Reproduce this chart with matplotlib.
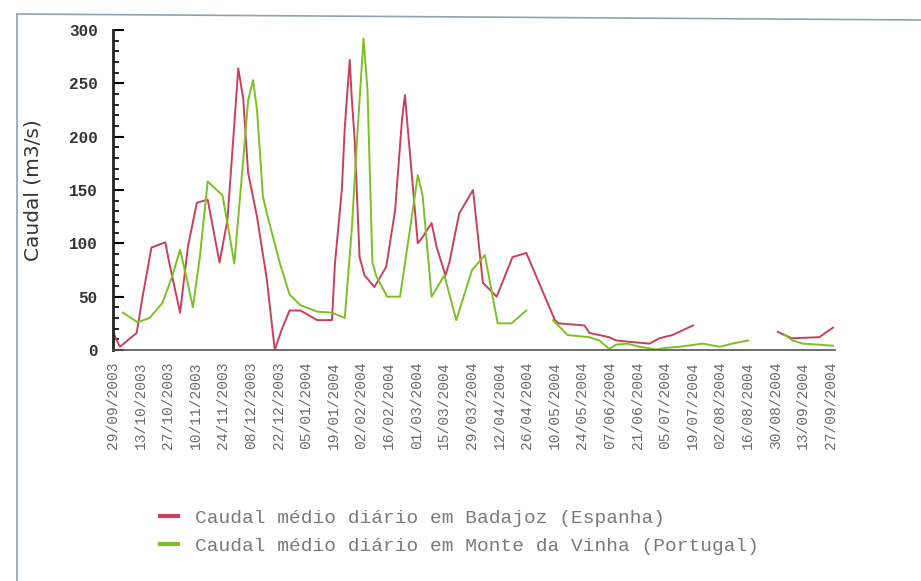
import numpy as np
import pandas as pd
import matplotlib
matplotlib.use("Agg")
import matplotlib.pyplot as plt
from matplotlib.lines import Line2D
from matplotlib.ticker import MultipleLocator

# days since 29/09/2003, nan = no data
badajoz_days = [0, 3.5, 12, 15, 19.5, 26.5, 28.5, 34, 38, 42.5, 48, 54, 58, 61, 63.5,
                66, 68.5, 73, 78, 82, 85.5, 89.5, 95, 103.5, 111, 112.5, 116, 117.5,
                120, 121, 122.5, 125, 127.5, 132.5, 138.5, 143, 146.5, 148, 149.5,
                152, 154.5, 157, 161.5, 164, 168.5, 170.5, 175.5, 182.5, 187.5,
                194.5, 202.5, 209.5, 224, 226, 239, 241.5, 246.5, 251.5, 255, 260,
                272, 277, 283.5, 287, 294, 315, 337, 344, 358, 365]
badajoz_vals = [17, 3, 16, 50, 96, 101, 82, 35, 97, 138, 141, 82, 122, 199, 264,
                236, 166, 125, 66, 0, 19, 37, 37, 28, 28, 81, 150, 209,
                272, 237, 197, 87, 70, 59, 78, 131, 216, 239, 206,
                153, 100, 106, 119, 97, 70, 82, 128, 150, 63,
                50, 87, 91, 28, 25, 23, 16, 14, 12, 9, 8,
                6, 11, 14, 17, 23, np.nan, 17, 11, 12, 21]

vinha_days = [5, 12.5, 18.5, 25, 30, 34, 37.5, 40.5, 44, 48, 55.5, 58, 61.5, 66,
              68.5, 71, 73, 76, 78, 84.5, 89.5, 95, 103.5, 111, 117.5, 121, 124,
              127, 129, 131.5, 133.5, 139, 145.5, 151.5, 154.5, 157, 161.5, 168,
              174, 182, 188.5, 195, 202, 209.5, 216, 223, 230.5, 241.5, 246.5,
              251.5, 255, 260.5, 267, 275.5, 280.5, 287, 299, 307.5, 314, 322,
              330, 340.5, 344.5, 349.5, 358, 365]
vinha_vals = [35, 26, 30, 44, 69, 94, 66, 40, 87, 158, 145, 119, 81, 178,
              234, 253, 225, 144, 128, 82, 52, 42, 36, 35, 30, 112, 206,
              292, 244, 82, 69, 50, 50, 125, 164, 144, 50, 70,
              28, 75, 89, 25, 25, 37, np.nan, 28, 14, 12, 9,
              1, 5, 6, 3, 0.5, 2, 3, 6, 3, 6, 9,
              np.nan, 14, 9, 6, 5, 4]

start_date = "2003-09-29"
n_labels = 27
legend_labels = ["Caudal médio diário em Badajoz (Espanha)",
                 "Caudal médio diário em Monte da Vinha (Portugal)"]

red = "#c8405c"
green = "#7cbf26"
mono = "Liberation Mono"

fig = plt.figure(figsize=(9.21, 5.81), dpi=100)
ax = fig.add_axes([113 / 921, 1 - 350 / 581, 722 / 921, 320 / 581])

ax.plot(badajoz_days, badajoz_vals, color=red, lw=1.4)
ax.plot(vinha_days, vinha_vals, color=green, lw=1.4)

ax.set_xlim(0, 366)
ax.set_ylim(0, 300)

tick_days = np.arange(n_labels) * 14
tick_text = pd.date_range(start_date, periods=n_labels, freq="14D").strftime("%d/%m/%Y")
ax.set_xticks(tick_days)
ax.set_xticklabels(tick_text, rotation=90, family=mono, fontsize=10.5, color="#6a6a6a")
ax.tick_params(axis="x", length=0, pad=8)

ax.yaxis.set_major_locator(MultipleLocator(50))
ax.yaxis.set_minor_locator(MultipleLocator(10))
ax.tick_params(axis="y", which="major", direction="in", length=8, width=1.5, pad=11)
ax.tick_params(axis="y", which="minor", direction="in", length=4, width=1.2)
for lab in ax.get_yticklabels():
    lab.set_family(mono)
    lab.set_fontweight("bold")
    lab.set_fontsize(11.5)
    lab.set_color("#333333")

ax.set_ylabel("Caudal (m3/s)", family="DejaVu Sans", fontsize=14.5, color="#333333")
ax.yaxis.set_label_coords(-0.098, 0.5)

for s in ["top", "right"]:
    ax.spines[s].set_visible(False)
ax.spines["left"].set_linewidth(2)
ax.spines["left"].set_color("#222222")
ax.spines["bottom"].set_color("#555555")
ax.spines["bottom"].set_linewidth(1.2)

handles = [Line2D([], [], color=red, lw=3), Line2D([], [], color=green, lw=3)]
leg = fig.legend(handles, legend_labels, loc="center left",
                 bbox_to_anchor=(160 / 921, 1 - 532 / 581), frameon=False,
                 borderpad=0, borderaxespad=0, handlelength=0.95,
                 handletextpad=0.85, labelspacing=0.55,
                 prop={"family": mono, "size": 14})
for t in leg.get_texts():
    t.set_color("#7a7a7a")

# scanned page frame
fig.add_artist(Line2D([17 / 921, 1], [1 - 14 / 581, 1 - 20 / 581], color="#8fa3ad", lw=1.2))
fig.add_artist(Line2D([17 / 921, 17 / 921], [1 - 14 / 581, 0], color="#8fa3ad", lw=1.2))

fig.savefig("out.png", dpi=100)
